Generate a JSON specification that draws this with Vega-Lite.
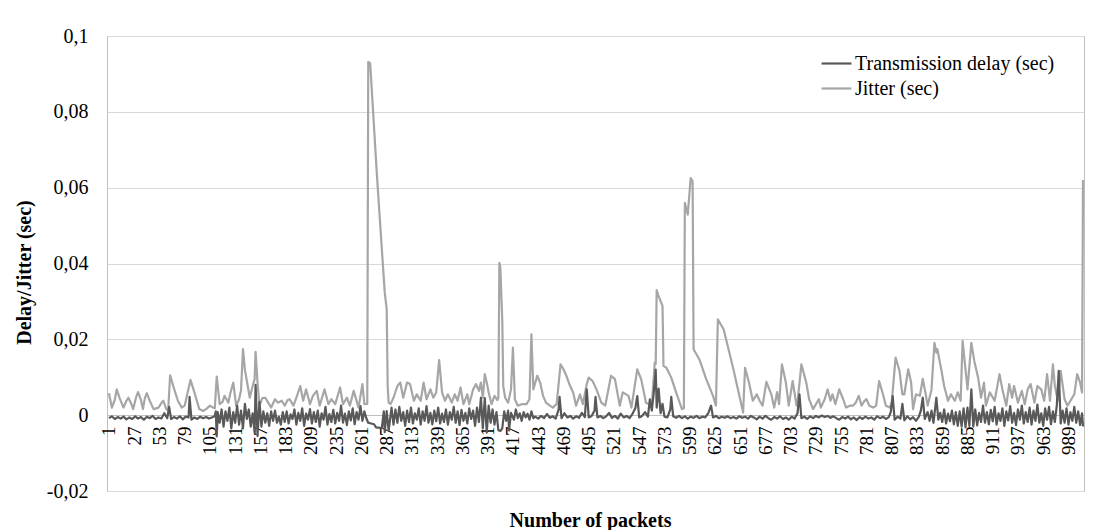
{
"$schema":"https://vega.github.io/schema/vega-lite/v6.json",
"width":977,"height":455,
"autosize":{"type":"none"},
"padding":{"left":107,"top":36,"right":21,"bottom":39},
"background":"white",
"config":{"font":"Liberation Serif","view":{"stroke":"#bfbfbf","strokeWidth":1},
"axis":{"labelColor":"black","titleColor":"black","labelFont":"Liberation Serif","titleFont":"Liberation Serif"}},
"datasets":{
"jit":[{"p":1,"v":0.0058},{"p":4,"v":0.002},{"p":7,"v":0.004},{"p":9,"v":0.0068},{"p":12,"v":0.0045},{"p":16,"v":0.002},{"p":19,"v":0.0038},{"p":21,"v":0.0046},{"p":24,"v":0.003},{"p":26,"v":0.0016},{"p":29,"v":0.0048},{"p":31,"v":0.0061},{"p":34,"v":0.004},{"p":36,"v":0.0016},{"p":38,"v":0.0045},{"p":40,"v":0.0058},{"p":43,"v":0.0038},{"p":47,"v":0.0016},{"p":52,"v":0.002},{"p":55,"v":0.0032},{"p":57,"v":0.0038},{"p":60,"v":0.0016},{"p":62,"v":0.0013},{"p":64,"v":0.0105},{"p":68,"v":0.007},{"p":72,"v":0.0038},{"p":76,"v":0.002},{"p":79,"v":0.0025},{"p":82,"v":0.006},{"p":85,"v":0.0093},{"p":89,"v":0.006},{"p":94,"v":0.0016},{"p":98,"v":0.0011},{"p":101,"v":0.0016},{"p":105,"v":0.0025},{"p":108,"v":0.002},{"p":110,"v":0.0018},{"p":112,"v":0.0102},{"p":115,"v":0.0029},{"p":118,"v":0.0035},{"p":120,"v":0.0051},{"p":124,"v":0.0033},{"p":126,"v":0.0058},{"p":129,"v":0.0086},{"p":132,"v":0.0025},{"p":135,"v":0.0042},{"p":137,"v":0.0065},{"p":139,"v":0.0174},{"p":141,"v":0.012},{"p":143,"v":0.009},{"p":146,"v":0.0046},{"p":149,"v":0.0077},{"p":151,"v":0.0095},{"p":152,"v":0.0167},{"p":154,"v":0.0085},{"p":156,"v":0.0025},{"p":159,"v":0.0045},{"p":162,"v":0.0046},{"p":165,"v":0.0033},{"p":168,"v":0.002},{"p":172,"v":0.0042},{"p":175,"v":0.0033},{"p":179,"v":0.0038},{"p":182,"v":0.0025},{"p":185,"v":0.004},{"p":187,"v":0.0042},{"p":191,"v":0.0025},{"p":194,"v":0.0046},{"p":198,"v":0.0077},{"p":201,"v":0.0038},{"p":204,"v":0.0068},{"p":208,"v":0.0029},{"p":211,"v":0.0051},{"p":215,"v":0.0064},{"p":218,"v":0.0025},{"p":223,"v":0.0068},{"p":227,"v":0.0029},{"p":230,"v":0.0042},{"p":234,"v":0.0029},{"p":239,"v":0.0073},{"p":242,"v":0.0029},{"p":246,"v":0.0046},{"p":249,"v":0.0025},{"p":253,"v":0.0064},{"p":258,"v":0.002},{"p":262,"v":0.0082},{"p":264,"v":0.0029},{"p":267,"v":0.003},{"p":268,"v":0.0932},{"p":270,"v":0.0928},{"p":277,"v":0.063},{"p":285,"v":0.0323},{"p":287,"v":0.028},{"p":288,"v":0.0077},{"p":289,"v":0.0033},{"p":291,"v":0.0029},{"p":294,"v":0.0046},{"p":298,"v":0.0077},{"p":301,"v":0.0086},{"p":304,"v":0.0046},{"p":308,"v":0.0086},{"p":311,"v":0.0082},{"p":315,"v":0.0038},{"p":318,"v":0.0055},{"p":322,"v":0.0038},{"p":325,"v":0.0086},{"p":328,"v":0.0042},{"p":332,"v":0.0068},{"p":335,"v":0.0046},{"p":338,"v":0.006},{"p":341,"v":0.0145},{"p":344,"v":0.006},{"p":347,"v":0.0038},{"p":350,"v":0.0055},{"p":354,"v":0.0033},{"p":357,"v":0.0055},{"p":360,"v":0.0038},{"p":363,"v":0.0073},{"p":366,"v":0.0029},{"p":370,"v":0.0055},{"p":372,"v":0.0029},{"p":376,"v":0.0068},{"p":379,"v":0.0082},{"p":382,"v":0.0064},{"p":384,"v":0.0086},{"p":386,"v":0.0046},{"p":388,"v":0.0108},{"p":390,"v":0.0086},{"p":392,"v":0.006},{"p":395,"v":0.0029},{"p":398,"v":0.0051},{"p":401,"v":0.004},{"p":402,"v":0.0045},{"p":403,"v":0.0402},{"p":404,"v":0.039},{"p":406,"v":0.025},{"p":407,"v":0.0077},{"p":409,"v":0.0046},{"p":412,"v":0.0033},{"p":415,"v":0.0068},{"p":417,"v":0.0178},{"p":419,"v":0.0042},{"p":422,"v":0.0025},{"p":426,"v":0.0029},{"p":431,"v":0.0029},{"p":434,"v":0.0042},{"p":436,"v":0.0213},{"p":438,"v":0.0068},{"p":442,"v":0.0104},{"p":445,"v":0.0086},{"p":448,"v":0.0051},{"p":451,"v":0.0033},{"p":455,"v":0.0025},{"p":458,"v":0.002},{"p":462,"v":0.0029},{"p":466,"v":0.0134},{"p":469,"v":0.0121},{"p":472,"v":0.0104},{"p":475,"v":0.0082},{"p":479,"v":0.006},{"p":482,"v":0.0025},{"p":486,"v":0.0055},{"p":489,"v":0.0029},{"p":493,"v":0.0082},{"p":495,"v":0.0099},{"p":499,"v":0.009},{"p":503,"v":0.0068},{"p":508,"v":0.0033},{"p":512,"v":0.0025},{"p":518,"v":0.0104},{"p":522,"v":0.0095},{"p":527,"v":0.0025},{"p":530,"v":0.006},{"p":536,"v":0.0051},{"p":539,"v":0.002},{"p":545,"v":0.0121},{"p":549,"v":0.0095},{"p":554,"v":0.0033},{"p":560,"v":0.0025},{"p":563,"v":0.0139},{"p":564,"v":0.0135},{"p":565,"v":0.033},{"p":567,"v":0.0314},{"p":571,"v":0.0288},{"p":572,"v":0.013},{"p":575,"v":0.0125},{"p":580,"v":0.0099},{"p":585,"v":0.006},{"p":591,"v":0.0016},{"p":593,"v":0.0018},{"p":594,"v":0.056},{"p":597,"v":0.0529},{"p":600,"v":0.0625},{"p":602,"v":0.0617},{"p":603,"v":0.0174},{"p":609,"v":0.0147},{"p":616,"v":0.0095},{"p":623,"v":0.0051},{"p":626,"v":0.0025},{"p":628,"v":0.0253},{"p":634,"v":0.0226},{"p":644,"v":0.0121},{"p":654,"v":0.0007},{"p":656,"v":0.0125},{"p":660,"v":0.0086},{"p":664,"v":0.0038},{"p":668,"v":0.0055},{"p":671,"v":0.0038},{"p":674,"v":0.0025},{"p":678,"v":0.0088},{"p":683,"v":0.0055},{"p":686,"v":0.002},{"p":689,"v":0.0061},{"p":691,"v":0.0029},{"p":694,"v":0.0134},{"p":698,"v":0.0086},{"p":701,"v":0.0025},{"p":705,"v":0.009},{"p":709,"v":0.0025},{"p":710,"v":0.0033},{"p":714,"v":0.0134},{"p":719,"v":0.0086},{"p":722,"v":0.0042},{"p":726,"v":0.0016},{"p":729,"v":0.0029},{"p":732,"v":0.0042},{"p":734,"v":0.002},{"p":738,"v":0.0042},{"p":741,"v":0.0068},{"p":744,"v":0.0038},{"p":746,"v":0.0055},{"p":749,"v":0.0029},{"p":753,"v":0.0068},{"p":757,"v":0.0042},{"p":760,"v":0.002},{"p":764,"v":0.0025},{"p":767,"v":0.0025},{"p":770,"v":0.0033},{"p":773,"v":0.0051},{"p":776,"v":0.0025},{"p":779,"v":0.0038},{"p":781,"v":0.0042},{"p":784,"v":0.0025},{"p":788,"v":0.002},{"p":791,"v":0.0025},{"p":794,"v":0.009},{"p":798,"v":0.0055},{"p":801,"v":0.0025},{"p":805,"v":0.002},{"p":807,"v":0.0033},{"p":811,"v":0.0152},{"p":815,"v":0.0117},{"p":818,"v":0.0055},{"p":820,"v":0.0055},{"p":824,"v":0.0121},{"p":827,"v":0.0086},{"p":829,"v":0.0016},{"p":832,"v":0.0055},{"p":836,"v":0.0051},{"p":839,"v":0.0096},{"p":842,"v":0.0055},{"p":844,"v":0.0025},{"p":848,"v":0.0068},{"p":851,"v":0.0191},{"p":853,"v":0.0165},{"p":854,"v":0.0174},{"p":858,"v":0.0121},{"p":861,"v":0.0077},{"p":865,"v":0.0038},{"p":868,"v":0.0055},{"p":872,"v":0.0038},{"p":875,"v":0.006},{"p":878,"v":0.0038},{"p":880,"v":0.0196},{"p":884,"v":0.0095},{"p":885,"v":0.0068},{"p":889,"v":0.0191},{"p":892,"v":0.0143},{"p":896,"v":0.0099},{"p":899,"v":0.0046},{"p":902,"v":0.0086},{"p":904,"v":0.0025},{"p":908,"v":0.006},{"p":913,"v":0.0038},{"p":918,"v":0.0108},{"p":921,"v":0.0068},{"p":925,"v":0.0025},{"p":928,"v":0.0082},{"p":931,"v":0.0046},{"p":933,"v":0.0077},{"p":937,"v":0.0033},{"p":941,"v":0.0064},{"p":944,"v":0.0029},{"p":947,"v":0.0068},{"p":950,"v":0.0082},{"p":954,"v":0.0033},{"p":957,"v":0.0077},{"p":961,"v":0.0068},{"p":964,"v":0.0038},{"p":967,"v":0.0108},{"p":970,"v":0.0038},{"p":973,"v":0.0134},{"p":975,"v":0.0077},{"p":978,"v":0.0038},{"p":981,"v":0.0117},{"p":985,"v":0.0042},{"p":988,"v":0.0025},{"p":992,"v":0.0042},{"p":995,"v":0.0055},{"p":998,"v":0.0108},{"p":1001,"v":0.0086},{"p":1003,"v":0.006},{"p":1004,"v":0.062}],
"del":[{"p":1,"v":-0.0008},{"p":4,"v":-0.0003},{"p":7,"v":-0.001},{"p":10,"v":-0.0005},{"p":13,"v":-0.0009},{"p":16,"v":-0.0004},{"p":19,"v":-0.0011},{"p":22,"v":-0.0006},{"p":25,"v":-0.001},{"p":28,"v":-0.0003},{"p":31,"v":-0.0009},{"p":34,"v":-0.0005},{"p":37,"v":-0.0012},{"p":40,"v":-0.0004},{"p":43,"v":-0.0008},{"p":46,"v":-0.0002},{"p":49,"v":-0.001},{"p":52,"v":-0.0006},{"p":55,"v":-0.0009},{"p":58,"v":0.0005},{"p":61,"v":-0.0008},{"p":63,"v":0.0022},{"p":65,"v":-0.001},{"p":68,"v":-0.0005},{"p":71,"v":-0.0009},{"p":74,"v":-0.0003},{"p":77,"v":-0.0011},{"p":80,"v":-0.0004},{"p":83,"v":-0.0006},{"p":84,"v":0.0048},{"p":86,"v":-0.0012},{"p":89,"v":-0.0006},{"p":92,"v":-0.001},{"p":95,"v":-0.0004},{"p":98,"v":-0.0008},{"p":101,"v":-0.0005},{"p":104,"v":-0.0009},{"p":107,"v":-0.0006},{"p":110,"v":-0.0002},{"p":111,"v":0.001},{"p":112,"v":-0.0056},{"p":113,"v":0.0008},{"p":115,"v":-0.002},{"p":117,"v":0.0015},{"p":119,"v":-0.003},{"p":121,"v":0.001},{"p":123,"v":-0.0015},{"p":125,"v":0.002},{"p":127,"v":-0.0035},{"p":129,"v":0.0008},{"p":131,"v":-0.002},{"p":133,"v":0.0025},{"p":135,"v":-0.0025},{"p":137,"v":0.0012},{"p":139,"v":-0.0035},{"p":141,"v":0.003},{"p":143,"v":-0.001},{"p":145,"v":0.0015},{"p":147,"v":-0.003},{"p":149,"v":0.0005},{"p":151,"v":-0.0045},{"p":152,"v":0.008},{"p":154,"v":-0.0055},{"p":156,"v":0.0035},{"p":158,"v":-0.003},{"p":160,"v":0.001},{"p":162,"v":-0.002},{"p":164,"v":0.0005},{"p":166,"v":-0.0028},{"p":168,"v":0.001},{"p":170,"v":-0.0015},{"p":172,"v":0.0012},{"p":174,"v":-0.002},{"p":176,"v":-0.0004},{"p":178,"v":-0.0025},{"p":180,"v":0.0008},{"p":182,"v":-0.0018},{"p":184,"v":0.001},{"p":186,"v":-0.0022},{"p":188,"v":0.0002},{"p":190,"v":-0.001},{"p":192,"v":0.0015},{"p":194,"v":-0.0025},{"p":196,"v":0.0006},{"p":198,"v":-0.0015},{"p":200,"v":0.0018},{"p":202,"v":-0.0028},{"p":204,"v":0.0004},{"p":206,"v":-0.0012},{"p":208,"v":0.0016},{"p":210,"v":-0.0022},{"p":212,"v":0.0008},{"p":214,"v":-0.0018},{"p":216,"v":0.0012},{"p":218,"v":-0.003},{"p":220,"v":0.0005},{"p":222,"v":-0.0012},{"p":224,"v":0.0022},{"p":226,"v":-0.0025},{"p":228,"v":0.0003},{"p":230,"v":-0.0018},{"p":232,"v":0.0014},{"p":234,"v":-0.0022},{"p":236,"v":0.0006},{"p":238,"v":-0.0015},{"p":240,"v":0.0025},{"p":242,"v":-0.002},{"p":244,"v":0.0004},{"p":246,"v":-0.0026},{"p":248,"v":0.001},{"p":250,"v":-0.0014},{"p":252,"v":0.0018},{"p":254,"v":-0.0024},{"p":256,"v":0.0008},{"p":258,"v":-0.0012},{"p":260,"v":0.0024},{"p":262,"v":-0.0015},{"p":264,"v":0.001},{"p":266,"v":-0.0008},{"p":268,"v":-0.002},{"p":274,"v":-0.0024},{"p":276,"v":-0.0032},{"p":282,"v":-0.0034},{"p":284,"v":0.001},{"p":285,"v":-0.0045},{"p":287,"v":0.0011},{"p":289,"v":-0.0041},{"p":292,"v":0.002},{"p":294,"v":-0.0025},{"p":296,"v":0.0015},{"p":298,"v":-0.002},{"p":300,"v":0.0022},{"p":302,"v":-0.0015},{"p":304,"v":0.0008},{"p":306,"v":-0.0028},{"p":308,"v":0.0012},{"p":310,"v":-0.0018},{"p":312,"v":0.002},{"p":314,"v":-0.0022},{"p":316,"v":0.0005},{"p":318,"v":-0.0012},{"p":320,"v":0.0018},{"p":322,"v":-0.0025},{"p":324,"v":0.001},{"p":326,"v":-0.0015},{"p":328,"v":0.0024},{"p":330,"v":-0.002},{"p":332,"v":0.0006},{"p":334,"v":-0.0024},{"p":336,"v":0.0012},{"p":338,"v":-0.0016},{"p":340,"v":0.002},{"p":342,"v":-0.0022},{"p":344,"v":0.0004},{"p":346,"v":-0.0018},{"p":348,"v":0.0015},{"p":350,"v":-0.0025},{"p":352,"v":0.0008},{"p":354,"v":-0.0012},{"p":356,"v":0.0022},{"p":358,"v":-0.002},{"p":360,"v":0.001},{"p":362,"v":-0.0026},{"p":364,"v":0.0014},{"p":366,"v":-0.0015},{"p":368,"v":0.0006},{"p":370,"v":-0.0022},{"p":372,"v":0.0018},{"p":374,"v":-0.001},{"p":376,"v":0.0012},{"p":378,"v":-0.0028},{"p":380,"v":0.002},{"p":382,"v":-0.0018},{"p":384,"v":0.0046},{"p":386,"v":-0.0035},{"p":388,"v":0.0045},{"p":390,"v":-0.0046},{"p":392,"v":0.0025},{"p":394,"v":-0.002},{"p":396,"v":0.0015},{"p":398,"v":-0.0025},{"p":400,"v":0.0008},{"p":402,"v":-0.004},{"p":404,"v":-0.0042},{"p":406,"v":-0.0035},{"p":408,"v":0.001},{"p":410,"v":-0.0015},{"p":412,"v":0.0012},{"p":413,"v":-0.004},{"p":415,"v":0.0006},{"p":418,"v":-0.0012},{"p":420,"v":0.0015},{"p":422,"v":-0.0008},{"p":424,"v":0.0005},{"p":426,"v":-0.0015},{"p":428,"v":0.0008},{"p":430,"v":-0.0006},{"p":432,"v":0.0004},{"p":434,"v":-0.0012},{"p":436,"v":0.001},{"p":438,"v":-0.0008},{"p":440,"v":-0.0004},{"p":443,"v":-0.0009},{"p":446,"v":-0.0002},{"p":449,"v":-0.0008},{"p":452,"v":0.0003},{"p":455,"v":-0.0007},{"p":458,"v":-0.0003},{"p":461,"v":-0.0009},{"p":464,"v":0.0015},{"p":465,"v":0.0048},{"p":467,"v":-0.0008},{"p":470,"v":0.0005},{"p":473,"v":-0.0006},{"p":476,"v":-0.0002},{"p":479,"v":-0.0009},{"p":482,"v":-0.0003},{"p":485,"v":-0.0007},{"p":488,"v":0.0006},{"p":491,"v":-0.0005},{"p":493,"v":0.0068},{"p":495,"v":-0.0006},{"p":498,"v":-0.0002},{"p":501,"v":0.0012},{"p":502,"v":0.0048},{"p":504,"v":-0.0006},{"p":507,"v":-0.0002},{"p":510,"v":-0.0008},{"p":513,"v":-0.0003},{"p":516,"v":0.0006},{"p":519,"v":-0.0007},{"p":522,"v":-0.0002},{"p":525,"v":-0.0009},{"p":528,"v":0.0004},{"p":531,"v":-0.0006},{"p":534,"v":-0.0002},{"p":537,"v":-0.0008},{"p":540,"v":0.0003},{"p":543,"v":0.0018},{"p":545,"v":0.005},{"p":547,"v":-0.0006},{"p":550,"v":-0.0002},{"p":553,"v":0.0008},{"p":556,"v":-0.0004},{"p":558,"v":0.0042},{"p":560,"v":0.0012},{"p":562,"v":0.006},{"p":564,"v":0.012},{"p":565,"v":0.002},{"p":567,"v":0.007},{"p":569,"v":0.0005},{"p":571,"v":0.003},{"p":573,"v":-0.0004},{"p":576,"v":-0.0006},{"p":579,"v":0.0015},{"p":580,"v":0.0048},{"p":582,"v":-0.0003},{"p":585,"v":-0.0007},{"p":588,"v":-0.0002},{"p":591,"v":-0.0008},{"p":594,"v":-0.0003},{"p":597,"v":-0.0009},{"p":600,"v":-0.0004},{"p":603,"v":-0.0007},{"p":606,"v":-0.0002},{"p":609,"v":-0.0008},{"p":612,"v":-0.0004},{"p":615,"v":-0.0006},{"p":618,"v":0.0005},{"p":621,"v":0.0025},{"p":623,"v":-0.0006},{"p":626,"v":-0.0002},{"p":629,"v":-0.0008},{"p":632,"v":-0.0004},{"p":635,"v":-0.0007},{"p":638,"v":-0.0003},{"p":641,"v":-0.0008},{"p":644,"v":-0.0005},{"p":647,"v":-0.0009},{"p":650,"v":-0.0003},{"p":653,"v":-0.0007},{"p":656,"v":-0.0004},{"p":659,"v":-0.0009},{"p":662,"v":-0.0002},{"p":665,"v":-0.0006},{"p":668,"v":-0.0011},{"p":671,"v":-0.0004},{"p":674,"v":-0.0009},{"p":677,"v":-0.0002},{"p":680,"v":-0.0008},{"p":683,"v":-0.0012},{"p":686,"v":-0.0005},{"p":689,"v":-0.0009},{"p":692,"v":-0.0003},{"p":695,"v":-0.001},{"p":698,"v":-0.0006},{"p":701,"v":-0.0012},{"p":704,"v":-0.0004},{"p":707,"v":-0.0009},{"p":710,"v":0.0005},{"p":712,"v":0.0055},{"p":714,"v":-0.0008},{"p":717,"v":-0.0004},{"p":720,"v":-0.001},{"p":723,"v":-0.0003},{"p":726,"v":-0.0008},{"p":729,"v":-0.0002},{"p":732,"v":-0.0006},{"p":735,"v":-0.0001},{"p":738,"v":-0.0005},{"p":741,"v":-0.0002},{"p":744,"v":-0.0007},{"p":747,"v":-0.0003},{"p":750,"v":-0.0008},{"p":753,"v":-0.0012},{"p":756,"v":-0.0005},{"p":759,"v":-0.0009},{"p":762,"v":-0.0004},{"p":765,"v":-0.0011},{"p":768,"v":-0.0006},{"p":771,"v":-0.0013},{"p":774,"v":-0.0005},{"p":777,"v":-0.001},{"p":780,"v":-0.0004},{"p":783,"v":-0.0009},{"p":786,"v":-0.0006},{"p":789,"v":-0.0012},{"p":792,"v":-0.0003},{"p":795,"v":-0.0008},{"p":798,"v":-0.0004},{"p":801,"v":-0.001},{"p":804,"v":-0.0005},{"p":806,"v":0.0008},{"p":808,"v":0.005},{"p":810,"v":-0.0012},{"p":813,"v":-0.0004},{"p":816,"v":-0.0009},{"p":818,"v":0.003},{"p":820,"v":-0.0014},{"p":823,"v":-0.0003},{"p":826,"v":-0.0011},{"p":829,"v":-0.0005},{"p":832,"v":-0.0015},{"p":835,"v":-0.0004},{"p":837,"v":0.0012},{"p":839,"v":0.0046},{"p":841,"v":-0.001},{"p":844,"v":0.0008},{"p":846,"v":-0.0015},{"p":848,"v":0.0012},{"p":850,"v":-0.002},{"p":853,"v":0.0046},{"p":855,"v":-0.0012},{"p":857,"v":0.0006},{"p":859,"v":-0.0018},{"p":861,"v":0.0015},{"p":863,"v":-0.0022},{"p":865,"v":0.0004},{"p":867,"v":-0.0016},{"p":869,"v":0.0012},{"p":871,"v":-0.0024},{"p":873,"v":0.0008},{"p":875,"v":-0.0028},{"p":877,"v":0.001},{"p":879,"v":-0.003},{"p":881,"v":0.0018},{"p":883,"v":-0.0032},{"p":885,"v":0.002},{"p":887,"v":-0.0028},{"p":889,"v":0.0068},{"p":891,"v":-0.003},{"p":893,"v":0.0015},{"p":895,"v":-0.0027},{"p":897,"v":0.0006},{"p":899,"v":-0.0018},{"p":901,"v":0.0025},{"p":903,"v":-0.002},{"p":905,"v":0.0008},{"p":907,"v":-0.0024},{"p":909,"v":0.0014},{"p":911,"v":-0.0016},{"p":913,"v":0.0022},{"p":915,"v":-0.0025},{"p":917,"v":0.0005},{"p":919,"v":-0.0015},{"p":921,"v":0.0018},{"p":923,"v":-0.0028},{"p":925,"v":0.001},{"p":927,"v":-0.0014},{"p":929,"v":0.0024},{"p":931,"v":-0.002},{"p":933,"v":0.0006},{"p":935,"v":-0.0026},{"p":937,"v":0.0015},{"p":939,"v":-0.0012},{"p":941,"v":0.0025},{"p":943,"v":-0.0022},{"p":945,"v":0.0008},{"p":947,"v":-0.0018},{"p":949,"v":0.002},{"p":951,"v":-0.0025},{"p":953,"v":0.0012},{"p":955,"v":-0.0015},{"p":957,"v":0.0028},{"p":959,"v":-0.002},{"p":961,"v":0.0005},{"p":963,"v":-0.0028},{"p":965,"v":0.0018},{"p":967,"v":-0.0012},{"p":969,"v":0.0022},{"p":971,"v":-0.0024},{"p":973,"v":0.001},{"p":975,"v":-0.0018},{"p":977,"v":0.0026},{"p":979,"v":0.0117},{"p":981,"v":-0.0022},{"p":983,"v":0.0012},{"p":985,"v":-0.002},{"p":987,"v":0.0018},{"p":989,"v":-0.0025},{"p":991,"v":0.0008},{"p":993,"v":-0.0015},{"p":995,"v":0.0022},{"p":997,"v":-0.002},{"p":999,"v":0.001},{"p":1001,"v":-0.0026},{"p":1003,"v":0.0005},{"p":1004,"v":-0.003}]
},
"encoding":{
"x":{"field":"p","type":"quantitative","scale":{"domain":[-1,1005],"nice":false,"zero":false},
"axis":{"values":[1,27,53,79,105,131,157,183,209,235,261,287,313,339,365,391,417,443,469,495,521,547,573,599,625,651,677,703,729,755,781,807,833,859,885,911,937,963,989],"labelAngle":270,"labelFontSize":19,"labelPadding":11,"ticks":false,"grid":false,"domain":true,"domainColor":"#bfbfbf","offset":-76,"labelOverlap":false,"labelFlush":false,"labelBound":false,"title":"Number of packets","titleFontSize":20,"titleFontWeight":"bold","titleY":105,"titleX":483,"titleBaseline":"middle","titleAlign":"center"}},
"y":{"field":"v","type":"quantitative","scale":{"domain":[-0.02,0.1],"nice":false,"zero":false},
"axis":{"values":[-0.02,0,0.02,0.04,0.06,0.08,0.1],"labelExpr":"replace(toString(datum.value), '.', ',')","labelFontSize":20,"labelPadding":19,"ticks":false,"domain":false,"grid":true,"gridColor":"#d9d9d9","title":"Delay/Jitter (sec)","titleFontSize":20,"titleFontWeight":"bold","titleX":-83,"titleY":236,"titleBaseline":"middle","titleAlign":"center","titleAngle":270}}
},
"layer":[
{"data":{"name":"jit"},"mark":{"type":"line","strokeWidth":2.2,"strokeJoin":"round"},
"encoding":{"color":{"datum":"Jitter (sec)","type":"nominal","scale":{"domain":["Transmission delay (sec)","Jitter (sec)"],"range":["#595959","#a6a6a6"]},
"legend":{"orient":"none","legendX":717,"legendY":15,"title":null,"symbolType":"M-1.36,0H1.36","symbolSize":484,"symbolStrokeWidth":2.2,"labelFontSize":20,"labelFont":"Liberation Serif","labelColor":"black","labelOffset":6,"labelLimit":400,"rowPadding":2}}}},
{"data":{"name":"del"},"mark":{"type":"line","strokeWidth":2.2,"strokeJoin":"round"},
"encoding":{"color":{"datum":"Transmission delay (sec)","type":"nominal","scale":{"domain":["Transmission delay (sec)","Jitter (sec)"],"range":["#595959","#a6a6a6"]},
"legend":{"orient":"none","legendX":717,"legendY":15,"title":null,"symbolType":"M-1.36,0H1.36","symbolSize":484,"symbolStrokeWidth":2.2,"labelFontSize":20,"labelFont":"Liberation Serif","labelColor":"black","labelOffset":6,"labelLimit":400,"rowPadding":2}}}}
]
}
